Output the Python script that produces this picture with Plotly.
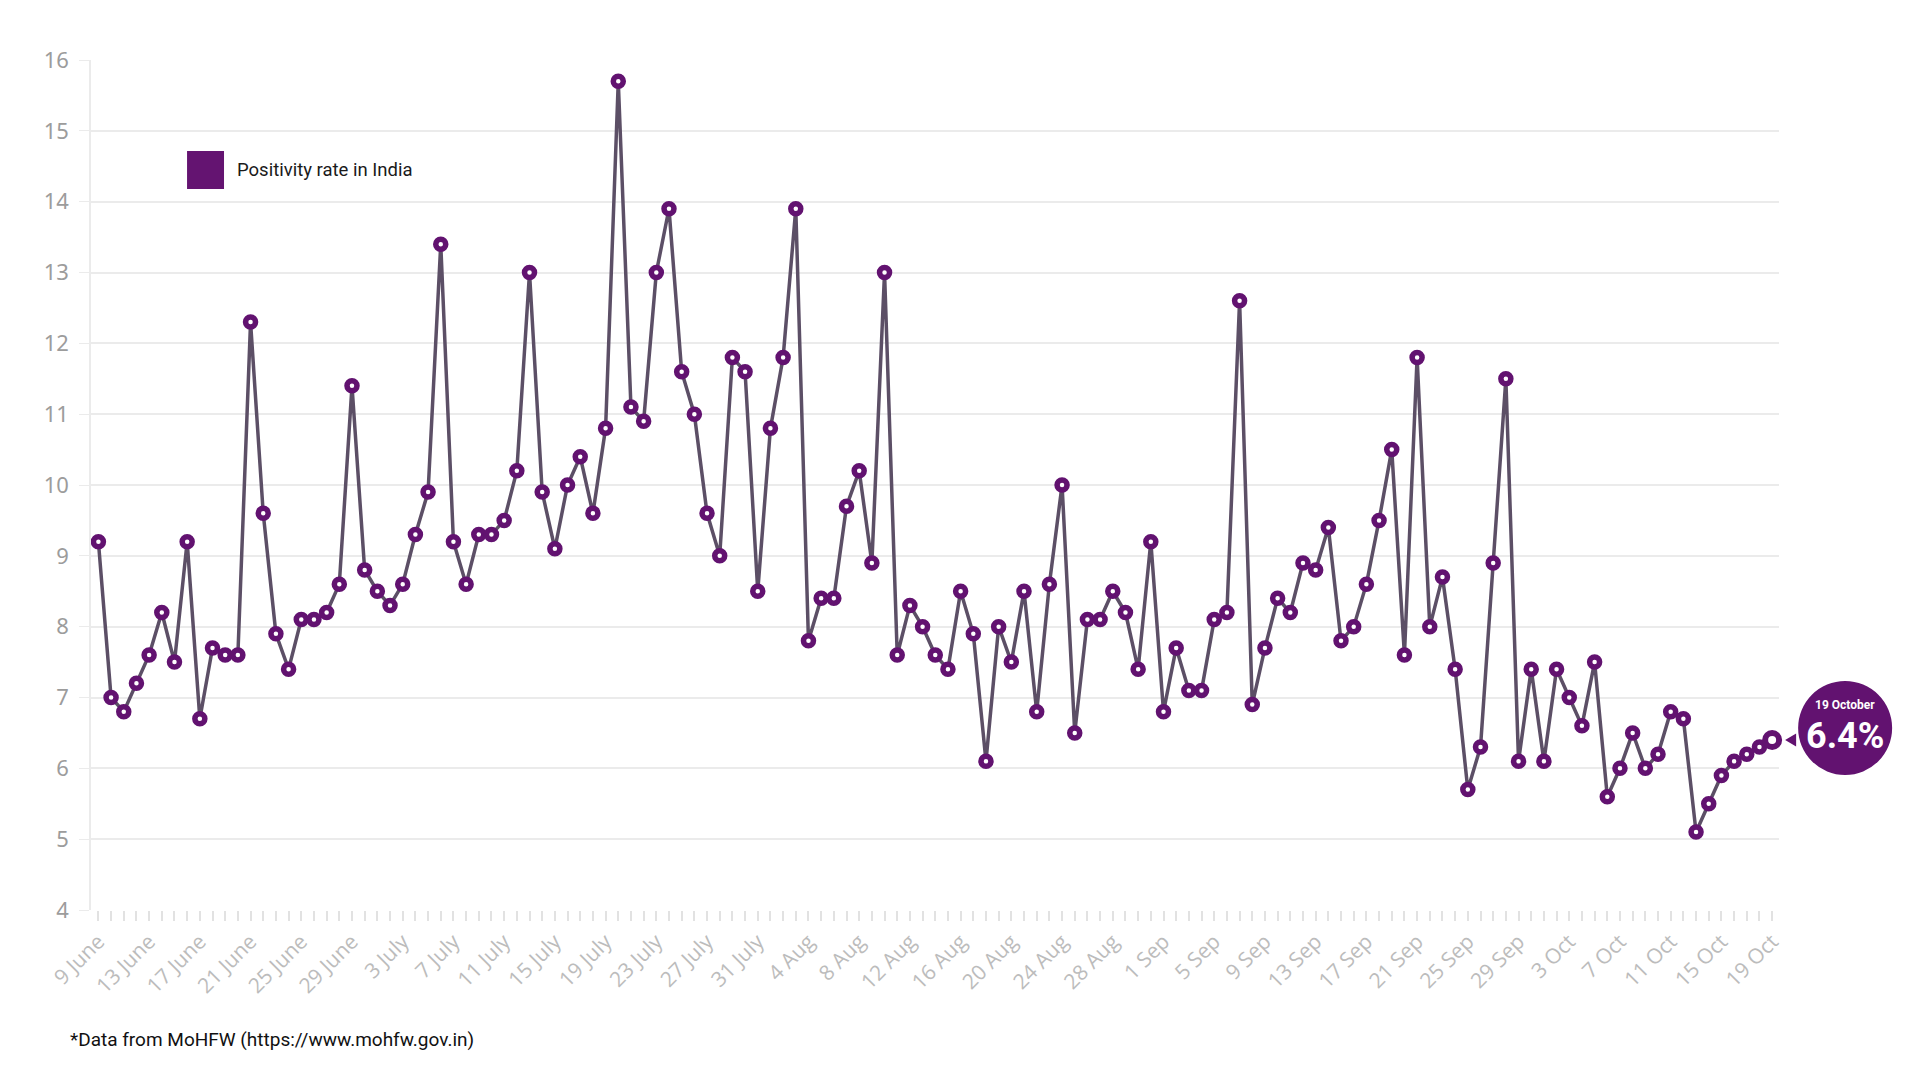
import pandas as pd
import plotly.graph_objects as go

# ---- data ----
start_date = "2020-06-09"
positivity = [
    9.2, 7.0, 6.8, 7.2, 7.6, 8.2, 7.5, 9.2, 6.7, 7.7, 7.6, 7.6, 12.3, 9.6, 7.9, 7.4,
    8.1, 8.1, 8.2, 8.6, 11.4, 8.8, 8.5, 8.3, 8.6, 9.3, 9.9, 13.4, 9.2, 8.6, 9.3, 9.3,
    9.5, 10.2, 13.0, 9.9, 9.1, 10.0, 10.4, 9.6, 10.8, 15.7, 11.1, 10.9, 13.0, 13.9,
    11.6, 11.0, 9.6, 9.0, 11.8, 11.6, 8.5, 10.8, 11.8, 13.9, 7.8, 8.4, 8.4, 9.7,
    10.2, 8.9, 13.0, 7.6, 8.3, 8.0, 7.6, 7.4, 8.5, 7.9, 6.1, 8.0, 7.5, 8.5, 6.8,
    8.6, 10.0, 6.5, 8.1, 8.1, 8.5, 8.2, 7.4, 9.2, 6.8, 7.7, 7.1, 7.1, 8.1, 8.2,
    12.6, 6.9, 7.7, 8.4, 8.2, 8.9, 8.8, 9.4, 7.8, 8.0, 8.6, 9.5, 10.5, 7.6, 11.8,
    8.0, 8.7, 7.4, 5.7, 6.3, 8.9, 11.5, 6.1, 7.4, 6.1, 7.4, 7.0, 6.6, 7.5, 5.6,
    6.0, 6.5, 6.0, 6.2, 6.8, 6.7, 5.1, 5.5, 5.9, 6.1, 6.2, 6.3, 6.4,
]
dates = list(pd.date_range(start_date, periods=len(positivity), freq="D"))

tick_labels = [
    "9 June", "13 June", "17 June", "21 June", "25 June", "29 June", "3 July",
    "7 July", "11 July", "15 July", "19 July", "23 July", "27 July", "31 July",
    "4 Aug", "8 Aug", "12 Aug", "16 Aug", "20 Aug", "24 Aug", "28 Aug", "1 Sep",
    "5 Sep", "9 Sep", "13 Sep", "17 Sep", "21 Sep", "25 Sep", "29 Sep", "3 Oct",
    "7 Oct", "11 Oct", "15 Oct", "19 Oct",
]
tick_every = 4
y_ticks = [4, 5, 6, 7, 8, 9, 10, 11, 12, 13, 14, 15, 16]
y_min, y_max = 4, 16

series_name = "Positivity rate in India"
callout_date = "19 October"
callout_value = "6.4%"
footnote = "*Data from MoHFW (https://www.mohfw.gov.in)"

# ---- layout constants (pixels) ----
W, H = 1920, 1080
ML, MR, MT, MB = 83, 149, 52, 178
PW, PH = W - ML - MR, H - MT - MB
PAD_L_H, PAD_R_H = 14, 13  # hours of padding on the time axis

PURPLE = "#621270"
LINE = "#5c4f66"
GRID = "#ebebeb"

tickvals = dates
ticktext = [tick_labels[i // tick_every] if i % tick_every == 0 else "" for i in range(len(dates))]

x_lo = dates[0] - pd.Timedelta(hours=PAD_L_H)
x_hi = dates[-1] + pd.Timedelta(hours=PAD_R_H)

span = (x_hi - x_lo).total_seconds()
last_px = ML + (dates[-1] - x_lo).total_seconds() / span * PW
last_py = MT + PH - (positivity[-1] - y_min) / (y_max - y_min) * PH


def px(xp):
    return (xp - ML) / PW


def py(yp):
    return (MT + PH - yp) / PH


cx, cy, r = last_px + 73, last_py - 12, 47

fig = go.Figure()
fig.add_trace(go.Scatter(
    x=dates, y=positivity, mode="lines+markers", name=series_name,
    line=dict(color=LINE, width=3.5),
    marker=dict(size=10, color="white", line=dict(color=PURPLE, width=5.5)),
    showlegend=False, cliponaxis=False,
))
fig.add_trace(go.Scatter(
    x=[dates[-1]], y=[positivity[-1]], mode="markers",
    marker=dict(size=14, color="white", line=dict(color=PURPLE, width=6)),
    showlegend=False, hoverinfo="skip", cliponaxis=False,
))

fig.update_layout(
    width=W, height=H,
    paper_bgcolor="white", plot_bgcolor="white",
    margin=dict(l=ML, r=MR, t=MT, b=MB),
    font=dict(family="Roboto, Noto Sans, sans-serif", color="#222"),
    xaxis=dict(
        type="date", range=[x_lo, x_hi],
        tickmode="array", tickvals=tickvals, ticktext=ticktext,
        tickangle=-45, ticks="outside", ticklen=10, tickcolor="#e2e2e2", tickwidth=1.5,
        tickfont=dict(family="Open Sans, sans-serif", size=21, color="#bcbcbc"),
        showgrid=False, showline=False, zeroline=False, automargin=False,
    ),
    yaxis=dict(
        range=[y_min, y_max], tickvals=y_ticks, ticks="outside", ticklen=10,
        tickcolor=GRID, gridcolor=GRID, gridwidth=1.5, ticklabelstandoff=6,
        tickfont=dict(family="Noto Sans, sans-serif", size=22, color="#9c9c9c"),
        showline=True, linecolor=GRID, linewidth=1.5, zeroline=False, automargin=False,
    ),
    shapes=[
        dict(type="rect", xref="paper", yref="paper",
             x0=0.0569, x1=0.0788, y0=0.8482, y1=0.8929,
             fillcolor="#641471", line=dict(width=0)),
        dict(type="circle", xref="paper", yref="paper",
             x0=px(cx - r), x1=px(cx + r), y0=py(cy + r), y1=py(cy - r),
             fillcolor=PURPLE, line=dict(width=0)),
        dict(type="path", xref="paper", yref="paper",
             path="M {:.5f},{:.5f} L {:.5f},{:.5f} L {:.5f},{:.5f} Z".format(
                 px(last_px + 13), py(last_py),
                 px(last_px + 24), py(last_py - 6.5),
                 px(last_px + 24), py(last_py + 6.5)),
             fillcolor=PURPLE, line=dict(width=0)),
    ],
    annotations=[
        dict(text=series_name, xref="paper", yref="paper", x=0.0853, y=0.8706,
             xanchor="left", yanchor="middle", showarrow=False,
             font=dict(family="Roboto, sans-serif", size=18.5, color="#1a1a1a")),
        dict(text=footnote, xref="paper", yref="paper", x=-0.0136, y=-0.1529,
             xanchor="left", yanchor="middle", showarrow=False,
             font=dict(family="Roboto, sans-serif", size=19, color="#111")),
        dict(text="<b>" + callout_date + "</b>", xref="paper", yref="paper",
             x=px(cx), y=py(cy - 23), showarrow=False,
             xanchor="center", yanchor="middle",
             font=dict(family="Roboto, sans-serif", size=12, color="white")),
        dict(text="<b>" + callout_value + "</b>", xref="paper", yref="paper",
             x=px(cx), y=py(cy + 8), showarrow=False,
             xanchor="center", yanchor="middle",
             font=dict(family="Roboto, sans-serif", size=36, color="white")),
    ],
)

fig.write_html("out.html")
